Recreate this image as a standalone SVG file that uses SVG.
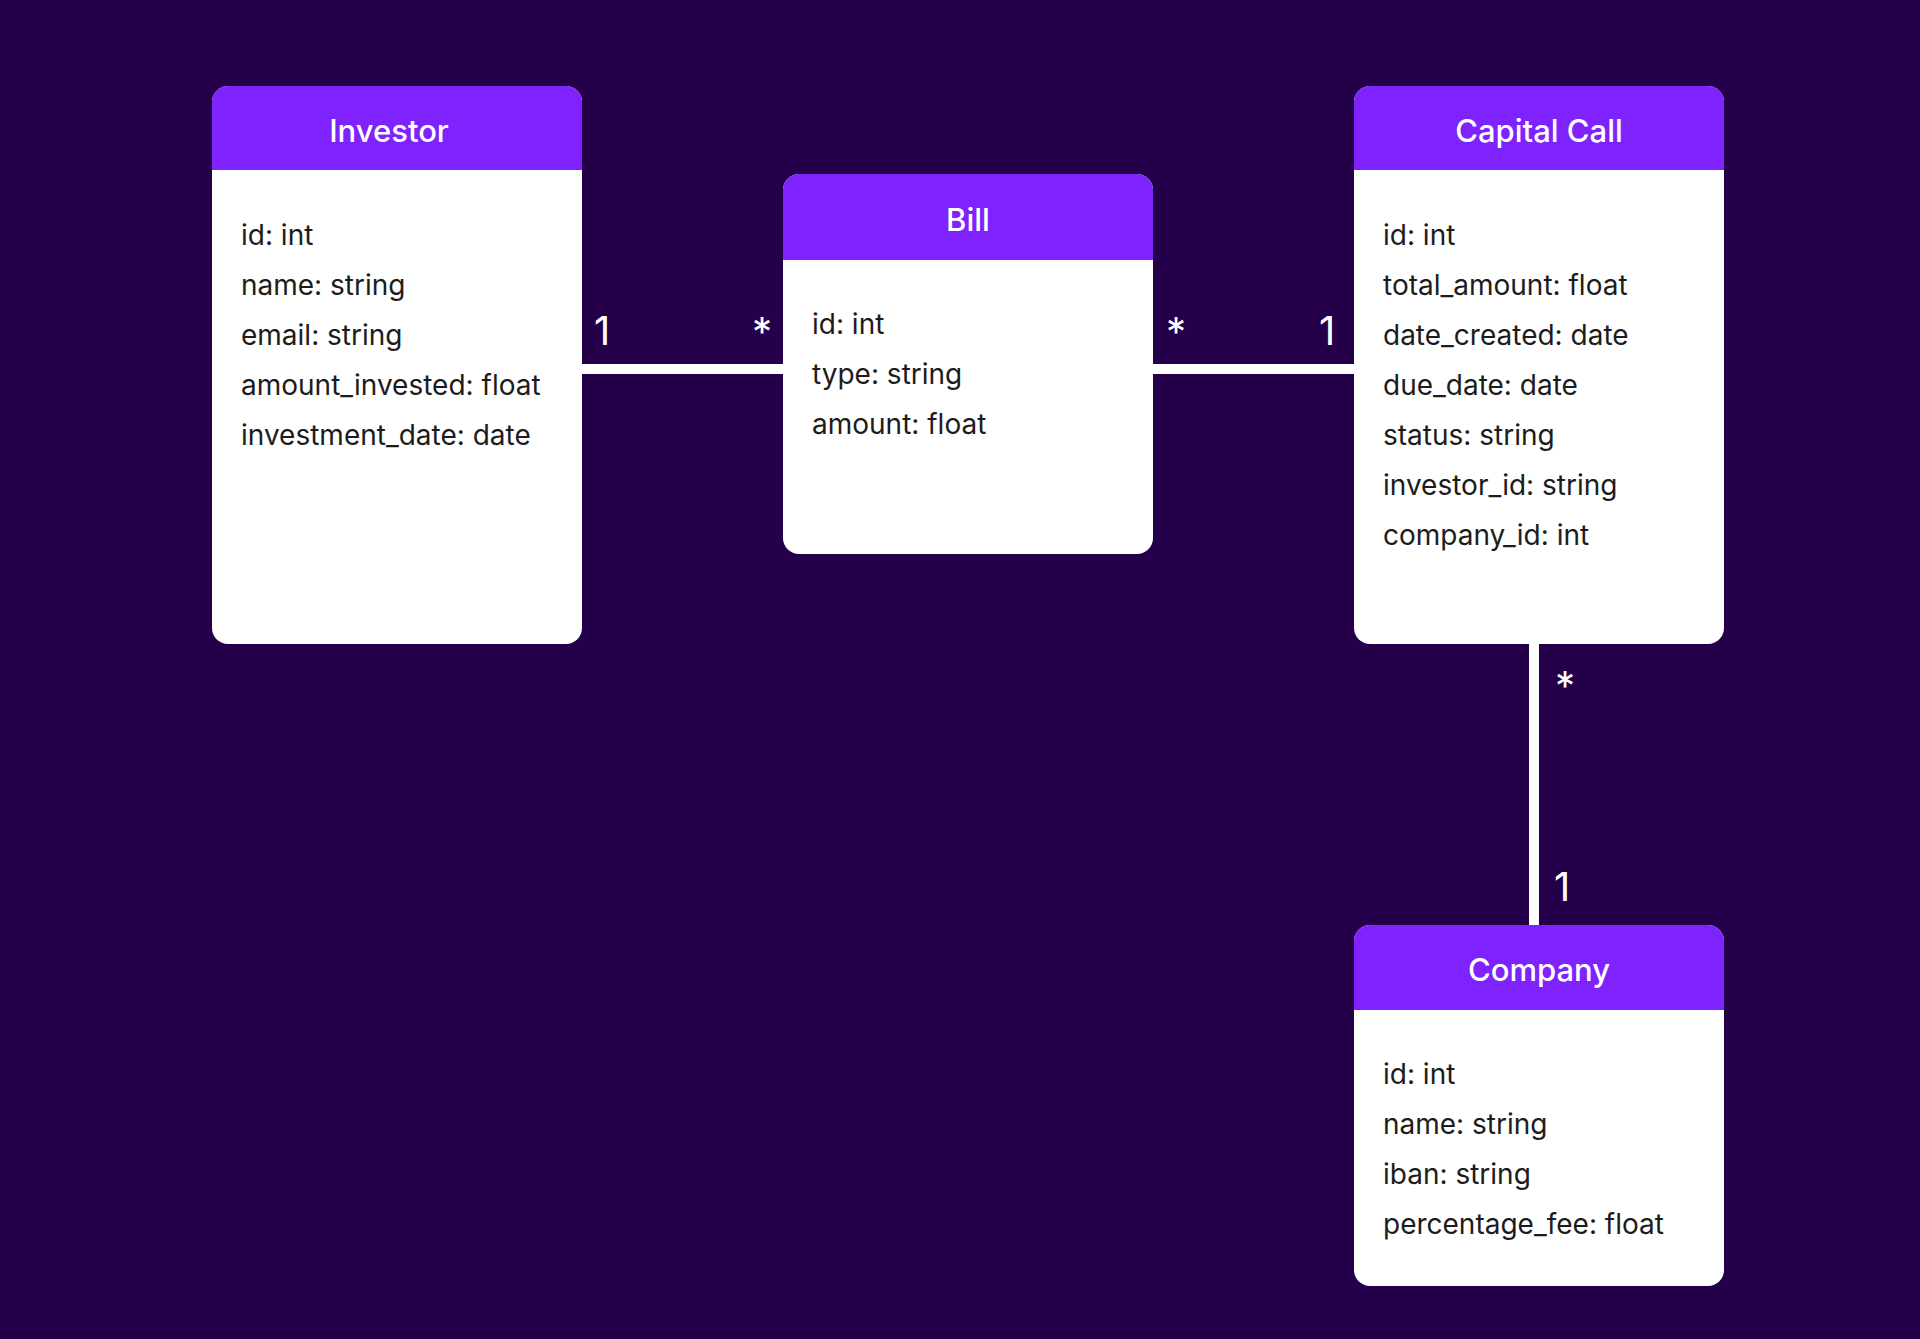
<svg xmlns="http://www.w3.org/2000/svg" width="1920" height="1339" viewBox="0 0 1920 1339">
<defs>
<style>
.card{fill:#ffffff}
.head{fill:#7e22fe}
.title{font-family:Inter,"Noto Sans",sans-serif;font-size:31px;font-weight:500;fill:#ffffff;text-anchor:middle}
.attr{font-family:Inter,"Noto Sans",sans-serif;font-size:28px;fill:#1c1c1c}
.mult{font-family:Inter,"Noto Sans",sans-serif;font-size:40px;fill:#ffffff}
.conn{stroke:#ffffff;stroke-width:10;fill:none}
</style>
</defs>
<rect x="0" y="0" width="1920" height="1339" fill="#24004a"/>
<g id="connectors">
<line class="conn" x1="582" y1="369" x2="784" y2="369"/>
<line class="conn" x1="1152" y1="369" x2="1354" y2="369"/>
<line class="conn" x1="1534" y1="644" x2="1534" y2="925"/>
<text class="mult" x="594" y="345">1</text>
<text class="mult" x="752" y="346">*</text>
<text class="mult" x="1166" y="346">*</text>
<text class="mult" x="1319" y="345">1</text>
<text class="mult" x="1555" y="700">*</text>
<text class="mult" x="1554" y="901">1</text>
</g>
<g id="investor">
<rect class="card" x="212" y="86" width="370" height="558" rx="16"/>
<path class="head" d="M212 170 V102 A16 16 0 0 1 228 86 H566 A16 16 0 0 1 582 102 V170 Z"/>
<text class="title" x="389" y="142">Investor</text>
<text class="attr" x="241" y="245">id: int</text>
<text class="attr" x="241" y="295">name: string</text>
<text class="attr" x="241" y="345">email: string</text>
<text class="attr" x="241" y="395">amount_invested: float</text>
<text class="attr" x="241" y="445">investment_date: date</text>
</g>
<g id="bill">
<rect class="card" x="783" y="174" width="370" height="380" rx="16"/>
<path class="head" d="M783 260 V190 A16 16 0 0 1 799 174 H1137 A16 16 0 0 1 1153 190 V260 Z"/>
<text class="title" x="968" y="231">Bill</text>
<text class="attr" x="812" y="334">id: int</text>
<text class="attr" x="812" y="384">type: string</text>
<text class="attr" x="812" y="434">amount: float</text>
</g>
<g id="capital-call">
<rect class="card" x="1354" y="86" width="370" height="558" rx="16"/>
<path class="head" d="M1354 170 V102 A16 16 0 0 1 1370 86 H1708 A16 16 0 0 1 1724 102 V170 Z"/>
<text class="title" x="1539" y="142">Capital Call</text>
<text class="attr" x="1383" y="245">id: int</text>
<text class="attr" x="1383" y="295">total_amount: float</text>
<text class="attr" x="1383" y="345">date_created: date</text>
<text class="attr" x="1383" y="395">due_date: date</text>
<text class="attr" x="1383" y="445">status: string</text>
<text class="attr" x="1383" y="495">investor_id: string</text>
<text class="attr" x="1383" y="545">company_id: int</text>
</g>
<g id="company">
<rect class="card" x="1354" y="925" width="370" height="361" rx="16"/>
<path class="head" d="M1354 1010 V941 A16 16 0 0 1 1370 925 H1708 A16 16 0 0 1 1724 941 V1010 Z"/>
<text class="title" x="1539" y="981">Company</text>
<text class="attr" x="1383" y="1084">id: int</text>
<text class="attr" x="1383" y="1134">name: string</text>
<text class="attr" x="1383" y="1184">iban: string</text>
<text class="attr" x="1383" y="1234">percentage_fee: float</text>
</g>
</svg>
